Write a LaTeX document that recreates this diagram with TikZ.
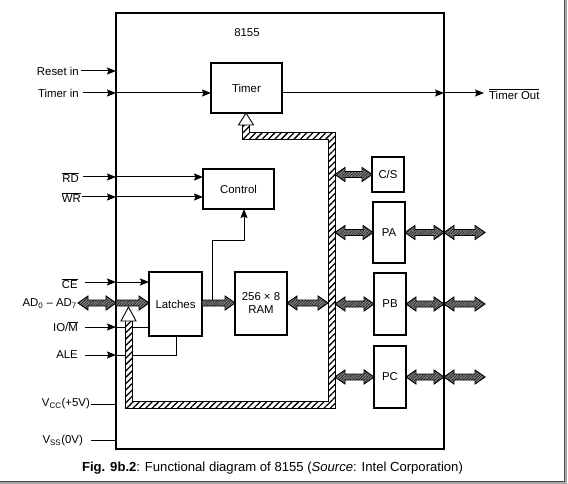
\documentclass[tikz,border=0pt]{standalone}
\usepackage{fontspec}
\setmainfont{Liberation Sans}
\usetikzlibrary{arrows.meta,patterns.meta,calc}
\tikzset{
  box/.style={draw, line width=1.1pt, inner sep=0pt, outer sep=0pt, font=\fontsize{11.4}{13}\selectfont, align=center},
  lbl/.style={inner sep=0pt, font=\fontsize{11.4}{13}\selectfont},
  sig/.style={line width=1pt, -{Stealth[length=9pt,width=7pt,inset=1.5pt]}},
  wire/.style={line width=1pt},
  fatarrow/.style={draw=black, line width=0.9pt, preaction={fill=black!45},
    pattern={Lines[angle=45,distance=2pt,line width=0.8pt]}, pattern color=black!85},
  buspath/.style={draw=black, line width=0.9pt, preaction={fill=white},
    pattern={Lines[angle=45,distance=4.5pt,line width=1.3pt]}, pattern color=black},
  openhead/.style={draw=black, line width=0.9pt, fill=white},
}
\newcommand\fatdbl[2]{\path[fatarrow] let \p1=(#1), \p2=(#2) in
  (\x1,\y1) -- (\x1+10pt,\y1+7pt) -- (\x1+10pt,\y1+3pt) -- (\x2-10pt,\y1+3pt) -- (\x2-10pt,\y1+7pt)
  -- (\x2,\y1) -- (\x2-10pt,\y1-7pt) -- (\x2-10pt,\y1-3pt) -- (\x1+10pt,\y1-3pt) -- (\x1+10pt,\y1-7pt) -- cycle;}
\newcommand\fatsgl[2]{\path[fatarrow] let \p1=(#1), \p2=(#2) in
  (\x1,\y1+3pt) -- (\x2-10pt,\y1+3pt) -- (\x2-10pt,\y1+7pt)
  -- (\x2,\y1) -- (\x2-10pt,\y1-7pt) -- (\x2-10pt,\y1-3pt) -- (\x1,\y1-3pt) -- cycle;}
\begin{document}
\begin{tikzpicture}[x=1pt,y=-1pt]
\useasboundingbox (0,0) rectangle (568,484);
% frame with shadow
\draw[gray!70, line width=2pt] (566,0) -- (566,483) -- (0,483);
\draw[black!70, line width=0.9pt] (564,0) -- (564,481) -- (0,481);

% chip outline
\node[box, minimum width=328pt, minimum height=436pt] (chip) at (280,231) {};
\node[lbl] (title) at (247,33) {8155};

% blocks
\node[box, minimum width=71pt, minimum height=50pt] (timer) at (246.5,88) {Timer};
\node[box, minimum width=71pt, minimum height=40pt] (control) at (238.5,189) {Control};
\node[box, minimum width=53pt, minimum height=64pt] (latches) at (175.5,304) {Latches};
\node[box, minimum width=52pt, minimum height=63pt] (ram) at (261,303.5) {256 × 8\\RAM};
\node[box, minimum width=32pt, minimum height=35pt] (cs) at (388,174.5) {C/S};
\node[box, minimum width=32pt, minimum height=61pt] (pa) at (389,232.5) {PA};
\node[box, minimum width=32pt, minimum height=62pt] (pb) at (390,304) {PB};
\node[box, minimum width=32pt, minimum height=62pt] (pc) at (390,377) {PC};

% signal start points
\coordinate (rst) at (81,71);
\coordinate (tin) at (83,93);
\coordinate (tout) at (484,93);
\coordinate (rd) at (83,177);
\coordinate (wr) at (82,197);
\coordinate (ce) at (85,282);
\coordinate (ad) at (78,303);
\coordinate (iom) at (85,327);
\coordinate (ale) at (85,355);
\coordinate (vcc) at (91,404);
\coordinate (vss) at (91,440);
\coordinate (alek) at (176,355);
\coordinate (ctlk) at (244,240);
\coordinate (tapk) at (212,303);

% labels
\node[lbl, anchor=east] (lrst) at (79,71) {Reset in};
\node[lbl, anchor=east] (ltin) at (79,93) {Timer in};
\node[lbl, anchor=west] (ltout) at (489,94) {$\overline{\hbox{Timer Out}}$};
\node[lbl, anchor=east] (lrd) at (79,178) {$\overline{\hbox{RD}}$};
\node[lbl, anchor=east] (lwr) at (81,198) {$\overline{\hbox{WR}}$};
\node[lbl, anchor=east] (lce) at (78,284) {$\overline{\hbox{CE}}$};
\node[lbl, anchor=east] (lad) at (77,304) {AD\textsubscript{0} – AD\textsubscript{7}};
\node[lbl, anchor=east] (liom) at (78,327) {IO/$\overline{\hbox{M}}$};
\node[lbl, anchor=east] (lale) at (78,355) {ALE};
\node[lbl, anchor=east] (lvcc) at (90,404) {V\textsubscript{CC}(+5V)};
\node[lbl, anchor=east] (lvss) at (83,441) {V\textsubscript{SS}(0V)};

% single-line signals
\draw[sig] (rst) -- (chip.west |- rst);
\draw[sig] (tin) -- (chip.west |- tin);
\draw[sig] (chip.west |- tin) -- (timer.west |- tin);
\draw[sig] (timer.east |- tin) -- (chip.east |- tin);
\draw[sig] (chip.east |- tin) -- (tout);
\draw[sig] (rd) -- (chip.west |- rd);
\draw[sig] (chip.west |- rd) -- (control.west |- rd);
\draw[sig] (wr) -- (chip.west |- wr);
\draw[sig] (chip.west |- wr) -- (control.west |- wr);
\draw[sig] (ce) -- (chip.west |- ce);
\draw[sig] (chip.west |- ce) -- (latches.west |- ce);
\draw[sig] (iom) -- (chip.west |- iom);
\draw[wire] (chip.west |- iom) -- (latches.west |- iom);
\draw[sig] (ale) -- (chip.west |- ale);
\draw[wire] (chip.west |- ale) -- (alek) -- (alek |- latches.south);
\draw[wire] (vcc) -- (chip.west |- vcc);
\draw[wire] (vss) -- (chip.west |- vss);
\draw[sig] (tapk) |- (ctlk) -- (ctlk |- control.south);

% internal open bus
\path[buspath] (249.5,124) -- (249.5,132.5) -- (335,132.5) -- (335,408) -- (125,408) -- (125,320)
  -- (132,320) -- (132,401) -- (328,401) -- (328,139.5) -- (242.5,139.5) -- (242.5,124) -- cycle;
\path[openhead] (timer.south -| 246,0) -- (253.5,125) -- (238.5,125) -- cycle;
\path[openhead] (128.5,307) -- (136,321) -- (121,321) -- cycle;

% fat data arrows
\coordinate (busL) at (328,303);
\coordinate (busR) at (335,303);
\fatdbl{ad}{chip.west |- ad}
\fatsgl{chip.west |- ad}{latches.west |- ad}
\fatsgl{latches.east |- ad}{ram.west |- ad}
\fatdbl{ram.east |- busL}{busL}
\fatdbl{busR |- cs}{cs.west}
\fatdbl{busR |- pa}{pa.west}
\fatdbl{pa.east}{chip.east |- pa}
\fatdbl{chip.east |- pa}{485,232.5}
\fatdbl{busR |- pb}{pb.west}
\fatdbl{pb.east}{chip.east |- pb}
\fatdbl{chip.east |- pb}{485,304}
\fatdbl{busR |- pc}{pc.west}
\fatdbl{pc.east}{chip.east |- pc}
\fatdbl{chip.east |- pc}{485,377}

% caption
\node[inner sep=0pt, font=\fontsize{13.1}{15}\selectfont] (caption) at (272.5,468)
  {\textbf{Fig. 9b.2}: Functional diagram of 8155 (\textit{Source}: Intel Corporation)};
\end{tikzpicture}
\end{document}
